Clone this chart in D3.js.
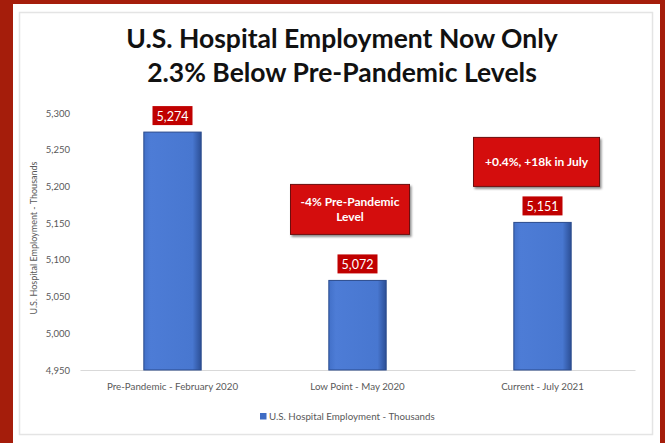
<!DOCTYPE html>
<html>
<head>
<meta charset="utf-8">
<script src="https://cdn.jsdelivr.net/npm/d3@7/dist/d3.min.js"></script>
<style>
  html, body { margin: 0; padding: 0; background: #a51d0b; }
  svg { display: block; }
</style>
</head>
<body>
<svg id="chart" width="665" height="443"></svg>
<script>
// Hospital employment (thousands) at three points in time
const categories = ["Pre-Pandemic - February 2020", "Low Point - May 2020", "Current - July 2021"];
const values = [5274, 5072, 5151];
const yTicks = [4950, 5000, 5050, 5100, 5150, 5200, 5250, 5300];
const annotations = [
  null,
  ["-4% Pre-Pandemic", "Level"],
  ["+0.4%, +18k in July"]
];
const titleLines = ["U.S. Hospital Employment Now Only", "2.3% Below Pre-Pandemic Levels"];
const seriesName = "U.S. Hospital Employment - Thousands";

const svg = d3.select("#chart");
const W = 665, H = 443;
const font = "Lato, 'Open Sans', sans-serif";

// frame: red border, white panel, light inner outline
svg.append("rect").attr("width", W).attr("height", H).attr("fill", "#a51d0b");
svg.append("rect").attr("x", 13).attr("y", 4).attr("width", 647).attr("height", 439).attr("fill", "#ffffff");
svg.append("rect").attr("x", 19.5).attr("y", 12.5).attr("width", 633).attr("height", 422)
  .attr("fill", "none").attr("stroke", "#e4e4e4").attr("stroke-width", 1.5);

const defs = svg.append("defs");
const grad = defs.append("linearGradient").attr("id", "barGrad").attr("x1", 0).attr("x2", 1).attr("y1", 0).attr("y2", 0);
grad.append("stop").attr("offset", "0%").attr("stop-color", "#4270c8");
grad.append("stop").attr("offset", "12%").attr("stop-color", "#4d7cd6");
grad.append("stop").attr("offset", "85%").attr("stop-color", "#4877d0");
grad.append("stop").attr("offset", "100%").attr("stop-color", "#2c4f96");

const shadow = defs.append("filter").attr("id", "shadow").attr("x", "-10%").attr("y", "-10%").attr("width", "130%").attr("height", "140%");
shadow.append("feDropShadow").attr("dx", 1.5).attr("dy", 2).attr("stdDeviation", 1.2).attr("flood-color", "#000").attr("flood-opacity", 0.45);

// title
svg.append("g").selectAll("text").data(titleLines).join("text")
  .attr("x", 342).attr("y", (d, i) => 48 + i * 34)
  .attr("text-anchor", "middle")
  .attr("font-family", font).attr("font-weight", "bold").attr("font-size", 26.5)
  .attr("fill", "#111").text(d => d);

// scales
const x = d3.scaleBand().domain(categories).range([80, 635]).paddingInner(0.69).paddingOuter(0.345);
const y = d3.scaleLinear().domain([4950, 5300]).range([370, 113]);

// y axis labels
const yAxis = svg.append("g").attr("transform", "translate(70,0)")
  .call(d3.axisLeft(y).tickValues(yTicks).tickFormat(d3.format(",")).tickSize(0).tickPadding(0));
yAxis.select(".domain").remove();
yAxis.selectAll("text").attr("font-family", font).attr("font-size", 9.5).attr("fill", "#595959");

// y axis title
svg.append("text")
  .attr("transform", "translate(37,238) rotate(-90)")
  .attr("text-anchor", "middle")
  .attr("font-family", font).attr("font-size", 9).attr("fill", "#595959")
  .text(seriesName);

// baseline and category labels
const xAxis = svg.append("g").attr("transform", "translate(0,370)")
  .call(d3.axisBottom(x).tickSize(0).tickPadding(13));
xAxis.select(".domain").attr("stroke", "#d9d9d9");
xAxis.selectAll("text").attr("font-family", font).attr("font-size", 9.75).attr("fill", "#595959");

// bars
svg.append("g").selectAll("rect").data(values).join("rect")
  .attr("x", (d, i) => x(categories[i]))
  .attr("y", d => y(d))
  .attr("width", x.bandwidth())
  .attr("height", d => y(4950) - y(d))
  .attr("fill", "url(#barGrad)")
  .attr("stroke", "#2a4a8c").attr("stroke-width", 1);

// value labels in red boxes
const labelG = svg.append("g").selectAll("g").data(values).join("g")
  .attr("transform", (d, i) => `translate(${x(categories[i]) + x.bandwidth() / 2},${y(d) - 16})`);
labelG.append("rect")
  .attr("x", -20).attr("y", -10).attr("width", 40).attr("height", 19)
  .attr("fill", "#c00000");
labelG.append("text")
  .attr("text-anchor", "middle").attr("dy", "0.36em")
  .attr("font-family", font).attr("font-size", 12.5).attr("fill", "#ffffff")
  .text(d => d3.format(",")(d));

// annotation callouts above the later bars: offset from bar centre, gap above bar, box size
const calloutBox = [null, {dx: -7.5, gap: 46, w: 119, h: 50}, {dx: -6, gap: 36, w: 126, h: 49}];
const annData = annotations.map((a, i) => ({a, i, box: calloutBox[i]})).filter(d => d.a);
const annG = svg.append("g").selectAll("g").data(annData).join("g")
  .attr("transform", d => {
    const cx = x(categories[d.i]) + x.bandwidth() / 2 + d.box.dx;
    const bottom = y(values[d.i]) - d.box.gap;
    return `translate(${cx},${bottom})`;
  });
annG.append("rect")
  .attr("x", d => -d.box.w / 2).attr("y", d => -d.box.h)
  .attr("width", d => d.box.w).attr("height", d => d.box.h)
  .attr("fill", "#d40a0a").attr("stroke", "#6d0b0b").attr("stroke-width", 1)
  .attr("filter", "url(#shadow)");
annG.each(function(d) {
  const g = d3.select(this);
  const lh = 15;
  d.a.forEach((line, j) => {
    g.append("text")
      .attr("text-anchor", "middle")
      .attr("y", -d.box.h / 2 + (j - (d.a.length - 1) / 2) * lh)
      .attr("dy", "0.36em")
      .attr("font-family", font).attr("font-weight", "bold").attr("font-size", 12)
      .attr("fill", "#ffffff").text(line);
  });
});

// legend
const legend = svg.append("g").attr("transform", "translate(260,417)");
legend.append("rect").attr("x", 0).attr("y", -4).attr("width", 6.5).attr("height", 6.5).attr("fill", "#3f6cc4");
legend.append("text").attr("x", 9).attr("dy", "0.3em")
  .attr("font-family", font).attr("font-size", 9.75).attr("fill", "#595959")
  .text(seriesName);
</script>
</body>
</html>
